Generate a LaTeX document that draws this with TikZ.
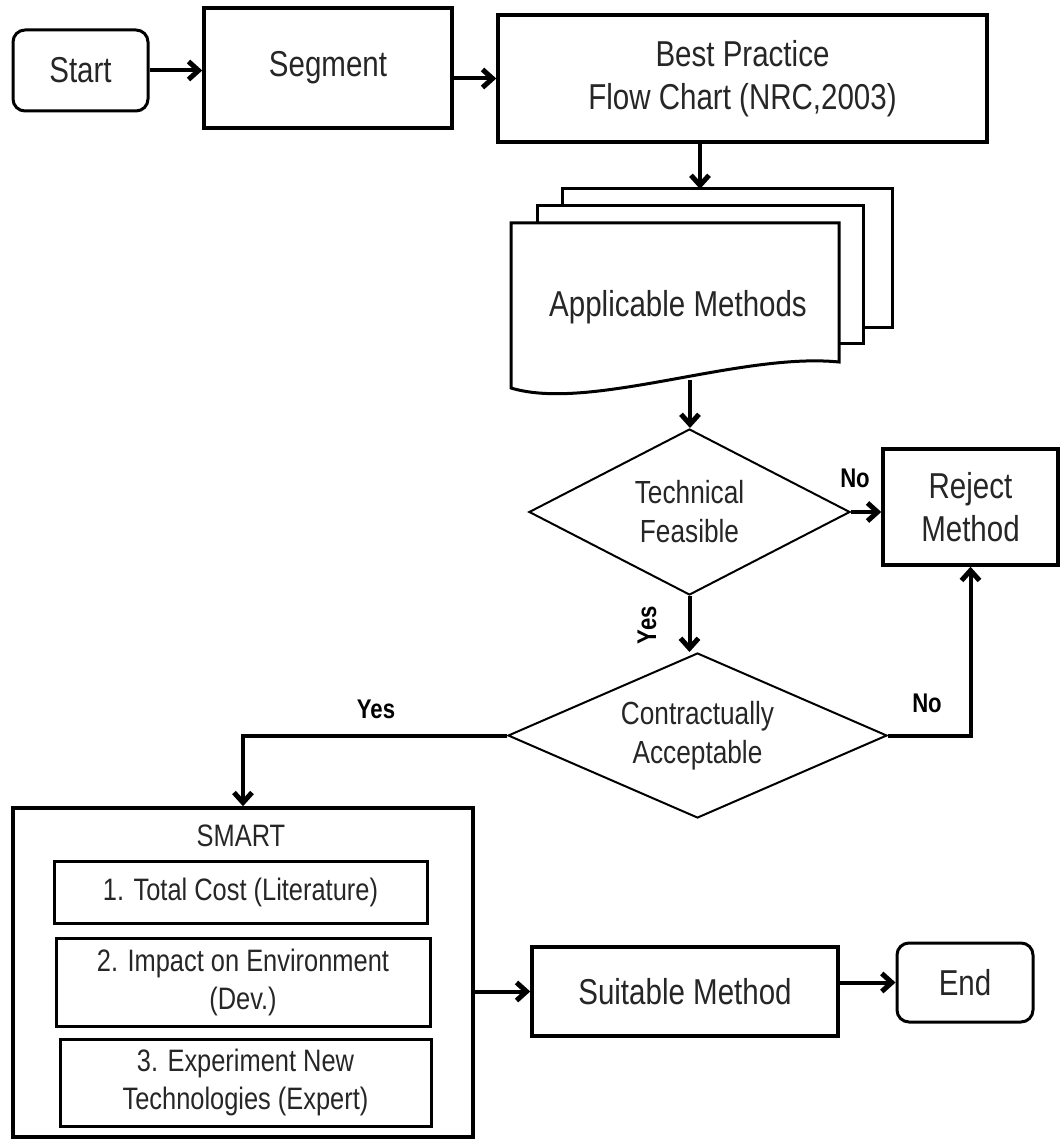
\documentclass[tikz,border=0pt]{standalone}
\usepackage{fontspec}
\setmainfont[FakeStretch=0.82]{Liberation Sans}
\usetikzlibrary{shapes.geometric,arrows.meta}

\begin{document}
\begin{tikzpicture}[x=1pt,y=-1pt,
  txt/.style={text=black!85, align=center, inner sep=0pt},
  box/.style={draw, line width=3.5pt, txt, font=\fontsize{36}{43}\selectfont},
  term/.style={box, line width=3pt, rounded corners=12pt},
  decision/.style={draw, diamond, line width=2pt, txt, font=\fontsize{32}{39}\selectfont},
  item/.style={draw, line width=3pt, txt, font=\fontsize{31}{38}\selectfont},
  lbl/.style={font=\bfseries\fontsize{27}{30}\selectfont, inner sep=0pt},
  sheet/.style={draw, line width=3pt, fill=white, line join=miter},
  flow/.style={line width=4pt, -{Straight Barb[length=10pt,width=18pt,line width=5pt]}},
]
\useasboundingbox (0,0) rectangle (1060,1139);

% top row
\node[term, minimum width=135pt, minimum height=81pt] (start) at (80.5,70.5) {Start};
\node[box, minimum width=248pt, minimum height=120pt] (seg) at (328,68) {Segment};
\node[box, minimum width=489pt, minimum height=127pt] (best) at (742.5,78.5)
  {Best Practice\\Flow Chart (NRC,2003)};

% stacked document: applicable methods
\draw[sheet] (562,189) rectangle (892,327);
\draw[sheet] (537,206) rectangle (863,343);
\draw[sheet] (511,223) -- (839,223) -- (839,362)
  .. controls (740,352) and (590,412) .. (511,388) -- cycle;
\node[txt, font=\fontsize{36}{43}\selectfont] (app) at (678,307) {Applicable Methods};
\coordinate (apptop) at (700,189);
\coordinate (appbot) at (690,380);

% decisions
\node[decision, aspect=1.93, minimum width=321pt, minimum height=166pt] (tech) at (689.5,512)
  {Technical\\Feasible};
\node[box, minimum width=175pt, minimum height=116pt] (rej) at (970.5,507)
  {Reject\\Method};
\node[decision, aspect=2.3, minimum width=379pt, minimum height=165pt] (ctr) at (697.5,735.5)
  {Contractually\\Acceptable};

% SMART block
\node[draw, line width=3.5pt, minimum width=460pt, minimum height=329pt, inner sep=0pt] (smart) at (243,972.5) {};
\node[txt, font=\fontsize{31}{38}\selectfont] (smarttitle) at (241,836) {SMART};
\node[item, minimum width=373pt, minimum height=62pt] (c1) at (240.5,892)
  {1. Total Cost (Literature)};
\node[item, minimum width=374pt, minimum height=88pt] (c2) at (243,982)
  {2. Impact on Environment\\(Dev.)};
\node[item, minimum width=371pt, minimum height=87pt] (c3) at (245.5,1082.5)
  {3. Experiment New\\Technologies (Expert)};

% bottom row
\node[box, minimum width=306pt, minimum height=89pt] (suit) at (685,991.5) {Suitable Method};
\node[term, minimum width=136pt, minimum height=79pt] (end) at (965,982.5) {End};

% connectors
\draw[flow] (start.east) -- (seg.west |- start.east);
\draw[flow] (seg.east |- best.west) -- (best.west);
\draw[flow] (best.south -| apptop) -- (apptop);
\draw[flow] (appbot) -- (appbot |- tech.north);
\draw[flow] (tech.east) -- (tech.east -| rej.west);
\node[lbl] (no1) at (855,478) {No};
\draw[flow] (tech.south) -- (tech.south |- ctr.north);
\node[lbl, rotate=90] (yes1) at (647,625) {Yes};
\draw[flow] (ctr.east) -| (rej.south);
\node[lbl] (no2) at (927,703) {No};
\draw[flow] (ctr.west) -| (smart.north);
\node[lbl] (yes2) at (376,709) {Yes};
\draw[flow] (smart.east |- suit.west) -- (suit.west);
\draw[flow] (suit.east |- end.west) -- (end.west);
\end{tikzpicture}
\end{document}
